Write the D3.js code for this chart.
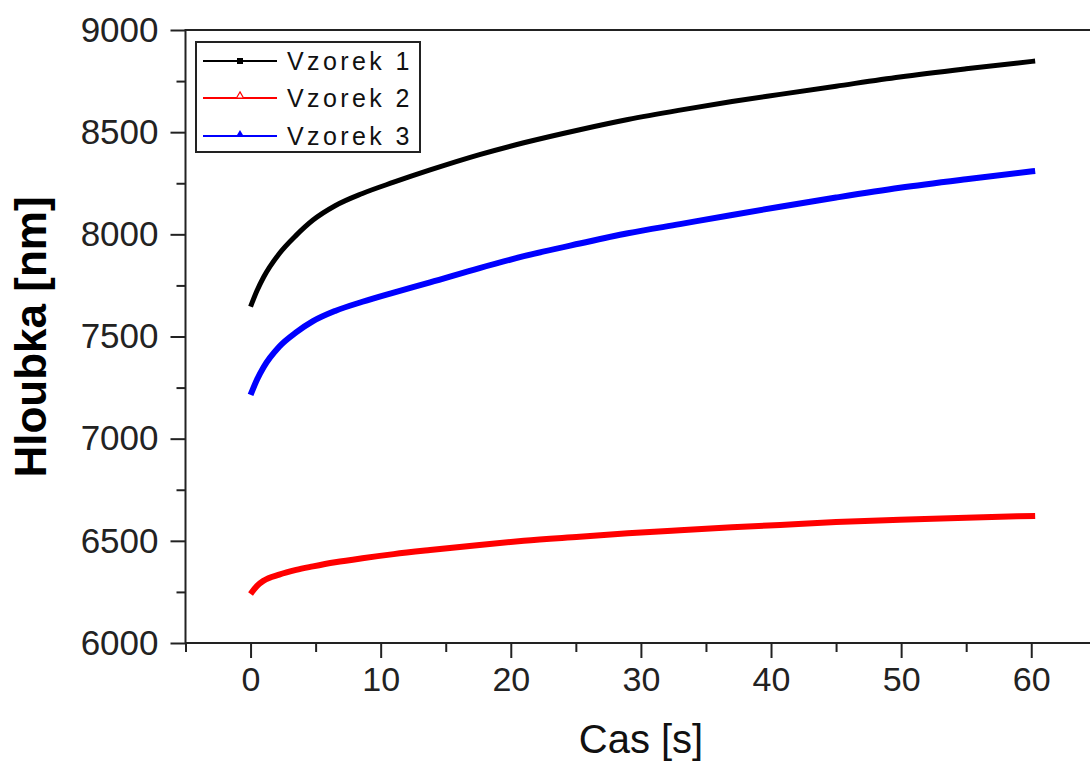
<!DOCTYPE html>
<meta charset="utf-8">
<script src="https://d3js.org/d3.v7.min.js"></script>
<style>
  body { margin: 0; background: #fff; }
  text { font-family: "Liberation Sans", Arial, sans-serif; }
</style>
<div id="chart"></div>
<script>
// values
var seriesNames = ["Vzorek 1", "Vzorek 2", "Vzorek 3"];
var seriesColors = ["#000000", "#ff0000", "#0000ff"];

var time = [0, 0.5, 1, 2.2, 3.5, 4.8, 6.5, 8.6, 11, 13.8, 17.6, 21, 25.3, 29, 33, 37, 40.7, 45, 49.9, 55, 60.3];
var vzorek1 = [7646, 7725, 7790, 7905, 7995, 8070, 8140, 8200, 8255, 8315, 8390, 8448, 8512, 8562, 8608, 8650, 8685, 8725, 8770, 8810, 8848];
var vzorek2 = [6240, 6280, 6305, 6335, 6358, 6375, 6395, 6415, 6435, 6455, 6480, 6500, 6520, 6537, 6552, 6566, 6578, 6592, 6603, 6613, 6622];
var vzorek3 = [7214, 7290, 7350, 7450, 7520, 7575, 7625, 7670, 7715, 7765, 7835, 7893, 7955, 8005, 8050, 8095, 8135, 8180, 8228, 8270, 8310];

var xMajor = [0, 10, 20, 30, 40, 50, 60];
var xMinor = [-5, 5, 15, 25, 35, 45, 55, 65];
var yMajor = [6000, 6500, 7000, 7500, 8000, 8500, 9000];
var yMinor = [6250, 6750, 7250, 7750, 8250, 8750];

var width = 1090, height = 764;
var svg = d3.select("#chart").append("svg")
  .attr("width", width)
  .attr("height", height);

var x = d3.scaleLinear().domain([-5, 65]).range([185.5, 1096.3]);
var y = d3.scaleLinear().domain([6000, 9000]).range([643, 30]);

var axisColor = "#222";
var fmt = d3.format("d");

// minor ticks
svg.append("g")
  .attr("transform", "translate(0," + y(6000) + ")")
  .call(d3.axisBottom(x).tickValues(xMinor).tickSize(9).tickFormat(""))
  .call(g => g.select(".domain").remove());
svg.append("g")
  .attr("transform", "translate(" + x(-5) + ",0)")
  .call(d3.axisLeft(y).tickValues(yMinor).tickSize(9).tickFormat(""))
  .call(g => g.select(".domain").remove());

// major ticks + labels
var xAxis = svg.append("g")
  .attr("transform", "translate(0," + y(6000) + ")")
  .call(d3.axisBottom(x).tickValues(xMajor).tickSize(15).tickPadding(9).tickFormat(fmt))
  .call(g => g.select(".domain").remove());
xAxis.selectAll("text").attr("font-size", 34).attr("fill", "#222")
  .style("font-family", "'Liberation Sans', Arial, sans-serif");

var yAxis = svg.append("g")
  .attr("transform", "translate(" + x(-5) + ",0)")
  .call(d3.axisLeft(y).tickValues(yMajor).tickSize(15).tickPadding(12).tickFormat(fmt))
  .call(g => g.select(".domain").remove());
yAxis.selectAll("text").attr("font-size", 35).attr("fill", "#222")
  .style("font-family", "'Liberation Sans', Arial, sans-serif");

svg.selectAll(".tick line").attr("stroke", axisColor).attr("stroke-width", 2);

// frame
svg.append("rect")
  .attr("x", x(-5)).attr("y", y(9000))
  .attr("width", x(65) - x(-5)).attr("height", y(6000) - y(9000))
  .attr("fill", "none").attr("stroke", axisColor).attr("stroke-width", 2);

// lines
var allSeries = [vzorek1, vzorek2, vzorek3];
var widths = [5, 6, 6];
var line = d3.line()
  .x(function (d, i) { return x(time[i]); })
  .y(function (d) { return y(d); })
  .curve(d3.curveMonotoneX);

allSeries.forEach(function (s, k) {
  svg.append("path")
    .datum(s)
    .attr("fill", "none")
    .attr("stroke", seriesColors[k])
    .attr("stroke-width", widths[k])
    .attr("stroke-linejoin", "round")
    .attr("d", line);
});

// legend
var legend = svg.append("g");
legend.append("rect")
  .attr("x", 196).attr("y", 42).attr("width", 224).attr("height", 110)
  .attr("fill", "#fff").attr("stroke", "#222").attr("stroke-width", 2);

var rowY = [61, 98, 136];
seriesNames.forEach(function (name, k) {
  legend.append("line")
    .attr("x1", 203).attr("x2", 277)
    .attr("y1", rowY[k]).attr("y2", rowY[k])
    .attr("stroke", seriesColors[k]).attr("stroke-width", 2);
  if (k === 0) {
    legend.append("rect")
      .attr("x", 237).attr("y", rowY[k] - 3).attr("width", 6).attr("height", 6)
      .attr("fill", "#000");
  } else if (k === 1) {
    legend.append("path")
      .attr("d", d3.symbol().type(d3.symbolTriangle).size(22)())
      .attr("transform", "translate(240," + (rowY[k] - 2) + ")")
      .attr("fill", "#fff").attr("stroke", "#f00").attr("stroke-width", 1.2);
  } else {
    legend.append("path")
      .attr("d", d3.symbol().type(d3.symbolTriangle).size(22)())
      .attr("transform", "translate(240," + (rowY[k] - 2) + ")")
      .attr("fill", "#00f");
  }
  legend.append("text")
    .attr("x", 287).attr("y", rowY[k] + 9)
    .attr("font-size", 25)
    .attr("letter-spacing", 3.4)
    .attr("fill", "#111")
    .text(name);
});

// axis titles
svg.append("text")
  .attr("text-anchor", "middle")
  .attr("transform", "translate(46,337) rotate(-90)")
  .attr("font-size", 44)
  .attr("font-weight", "bold")
  .attr("fill", "#000")
  .text("Hloubka [nm]");

svg.append("text")
  .attr("text-anchor", "middle")
  .attr("x", 641).attr("y", 753)
  .attr("font-size", 40)
  .attr("fill", "#111")
  .text("Cas [s]");
</script>
